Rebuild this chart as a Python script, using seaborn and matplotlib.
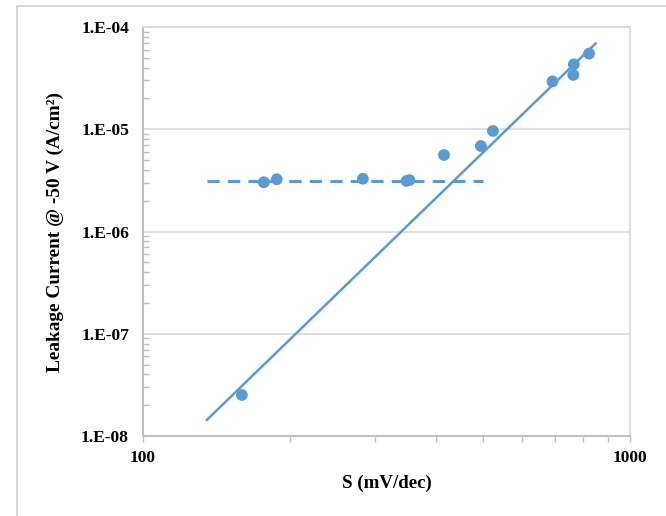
import matplotlib
matplotlib.use("Agg")
import matplotlib.pyplot as plt
import matplotlib.ticker as mticker
from matplotlib.patches import Rectangle
import seaborn as sns
import pandas as pd
import numpy as np

# ---- data ----
s_mv_dec = [159.6, 177, 188.2, 282.8, 347.6, 352.4, 415, 494, 523, 693, 766.7, 765, 824]
leakage = [2.52e-8, 3.03e-6, 3.24e-6, 3.28e-6, 3.12e-6, 3.18e-6, 5.6e-6, 6.85e-6,
           9.62e-6, 2.94e-5, 4.31e-5, 3.40e-5, 5.49e-5]

# power-law trend line (solid) end points
trend_x = [135.1, 850.6]
trend_y = [1.43e-8, 6.93e-5]

# flat level (dashed) end points
flat_x = [135.6, 498.2]
flat_y = [3.1e-6, 3.1e-6]

x_ticks = [100, 1000]
x_tick_labels = ["100", "1000"]
y_ticks = [1e-8, 1e-7, 1e-6, 1e-5, 1e-4]
y_tick_labels = ["1.E-08", "1.E-07", "1.E-06", "1.E-05", "1.E-04"]

x_title = "S (mV/dec)"
y_title = "Leakage Current @ -50 V (A/cm\u00b2)"

# ---- style ----
sns.set_style("white")
plt.rcParams["font.family"] = ["Liberation Serif", "DejaVu Serif"]
plt.rcParams["font.weight"] = "bold"
plt.rcParams["text.color"] = "black"
plt.rcParams["axes.labelcolor"] = "black"
plt.rcParams["xtick.color"] = "black"
plt.rcParams["ytick.color"] = "black"

blue = "#5B9BD5"
axis_gray = "#BFBFBF"
grid_gray = "#D9D9D9"

fig = plt.figure(figsize=(6.66, 5.16), dpi=100)
ax = fig.add_axes([143 / 666, 1 - 436 / 516, (630 - 143) / 666, (436 - 27) / 516])

df_pts = pd.DataFrame({"S": s_mv_dec, "I": leakage})
df_trend = pd.DataFrame({"S": trend_x, "I": trend_y})
df_flat = pd.DataFrame({"S": flat_x, "I": flat_y})

sns.scatterplot(data=df_pts, x="S", y="I", ax=ax, color=blue, s=72,
                edgecolor="none", zorder=3)
sns.lineplot(data=df_trend, x="S", y="I", ax=ax, color=blue, lw=1.8,
             zorder=4, estimator=None, sort=False)
sns.lineplot(data=df_flat, x="S", y="I", ax=ax, color=blue, lw=2.2,
             zorder=4, estimator=None, sort=False, dashes=False)
ax.lines[-1].set_dashes((4, 2.7))
ax.lines[-1].set_dash_capstyle("butt")

ax.set_xscale("log")
ax.set_yscale("log")
ax.set_xlim(100, 1000)
ax.set_ylim(1e-8, 1e-4)

ax.xaxis.set_major_locator(mticker.FixedLocator(x_ticks))
ax.xaxis.set_major_formatter(mticker.FixedFormatter(x_tick_labels))
ax.xaxis.set_minor_locator(mticker.LogLocator(base=10, subs=np.arange(2, 10)))
ax.xaxis.set_minor_formatter(mticker.NullFormatter())
ax.yaxis.set_major_locator(mticker.FixedLocator(y_ticks))
ax.yaxis.set_major_formatter(mticker.FixedFormatter(y_tick_labels))
ax.yaxis.set_minor_locator(mticker.LogLocator(base=10, subs=np.arange(2, 10)))
ax.yaxis.set_minor_formatter(mticker.NullFormatter())

ax.tick_params(axis="x", which="both", bottom=True, top=False)
ax.tick_params(axis="y", which="both", left=True, right=False)
ax.tick_params(axis="x", which="major", direction="out", length=4, width=1,
               color=axis_gray, labelcolor="black", labelsize=12.6, pad=6)
ax.tick_params(axis="x", which="minor", direction="out", length=4, width=1,
               color=axis_gray)
ax.tick_params(axis="y", which="major", direction="in", length=0,
               labelcolor="black", labelsize=12.6, pad=10)
ax.tick_params(axis="y", which="minor", direction="in", length=4, width=1,
               color=axis_gray)
for lab in ax.get_xticklabels() + ax.get_yticklabels():
    lab.set_fontweight("bold")

ax.yaxis.grid(True, which="major", color=grid_gray, lw=1.2)
ax.yaxis.grid(False, which="minor")
ax.xaxis.grid(False, which="both")
ax.set_axisbelow(True)

for side in ["left", "bottom"]:
    ax.spines[side].set_color(axis_gray)
    ax.spines[side].set_linewidth(1.4)
for side in ["top", "right"]:
    ax.spines[side].set_visible(True)
    ax.spines[side].set_color(grid_gray)
    ax.spines[side].set_linewidth(1.2)

ax.set_xlabel(x_title, fontsize=13.6, fontweight="bold", labelpad=6,
              color="black")
ax.set_ylabel(y_title, fontsize=13.9, fontweight="bold", labelpad=12,
              color="black")

# chart-area border (cropped on right and bottom)
fig.patches.append(Rectangle((17 / 666, -0.1), 1.2, 1.1 - 6 / 516,
                             transform=fig.transFigure, fill=False,
                             edgecolor=grid_gray, lw=1.5))

fig.savefig("out.png", dpi=100)
